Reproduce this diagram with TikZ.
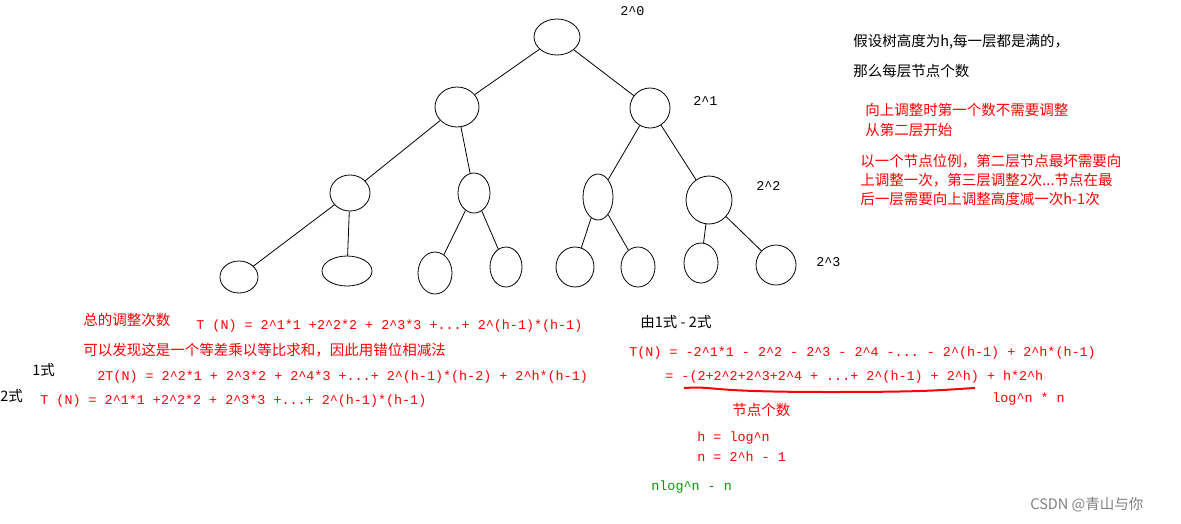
\documentclass[tikz,border=0pt]{standalone}
\usepackage{fontspec}
\setmainfont{Noto Sans CJK SC}
\setmonofont{Liberation Mono}
\newcommand{\ca}{\textasciicircum}
\tikzset{
  cn/.style={anchor=west, inner sep=0pt, font=\fontsize{14.5}{19}\selectfont},
  fm/.style={anchor=west, inner sep=0pt, text=red, font=\fontsize{13.4}{15}\selectfont\ttfamily},
}
\usetikzlibrary{shapes.geometric}
\begin{document}
\begin{tikzpicture}[x=1pt,y=-1pt,line width=0.8pt]
\useasboundingbox (0,0) rectangle (1181,523);
% tree
\node[draw,ellipse,minimum width=46,minimum height=36] (r) at (557,37) {};
\node[draw,ellipse,minimum width=44,minimum height=40] (a) at (457,107) {};
\node[draw,ellipse,minimum width=40,minimum height=40] (b) at (650,108) {};
\node[draw,ellipse,minimum width=40,minimum height=36] (aa) at (350,193) {};
\node[draw,ellipse,minimum width=32,minimum height=40] (ab) at (474,193) {};
\node[draw,ellipse,minimum width=30,minimum height=46] (ba) at (598,197) {};
\node[draw,ellipse,minimum width=46,minimum height=48] (bb) at (709,200) {};
\node[draw,ellipse,minimum width=38,minimum height=32] (aaa) at (239,277) {};
\node[draw,ellipse,minimum width=50,minimum height=30] (aab) at (347,271) {};
\node[draw,ellipse,minimum width=34,minimum height=42] (aba) at (435,273) {};
\node[draw,ellipse,minimum width=32,minimum height=40] (abb) at (506,267) {};
\node[draw,ellipse,minimum width=38,minimum height=40] (baa) at (575,267) {};
\node[draw,ellipse,minimum width=34,minimum height=40] (bab) at (638,267) {};
\node[draw,ellipse,minimum width=34,minimum height=40] (bba) at (701,263) {};
\node[draw,ellipse,minimum width=40,minimum height=40] (bbb) at (776,265) {};
\draw (r) -- (a); \draw (r) -- (b);
\draw (a) -- (aa); \draw (a) -- (ab);
\draw (b) -- (ba); \draw (b) -- (bb);
\draw (aa) -- (aaa); \draw (aa) -- (aab);
\draw (ab) -- (aba); \draw (ab) -- (abb);
\draw (ba) -- (baa); \draw (ba) -- (bab);
\draw (bb) -- (bba); \draw (bb) -- (bbb);
% level labels
\node[fm,text=black] (l0) at (620,11) {2\ca0};
\node[fm,text=black] (l1) at (693,101) {2\ca1};
\node[fm,text=black] (l2) at (756,186) {2\ca2};
\node[fm,text=black] (l3) at (816,262) {2\ca3};
% notes right
\node[cn] (n1) at (853,42) {假设树高度为h,每一层都是满的，};
\node[cn] (n2) at (853,71) {那么每层节点个数};
\node[cn,text=red] (n3) at (865,110) {向上调整时第一个数不需要调整};
\node[cn,text=red] (n4) at (865,130) {从第二层开始};
\node[cn,text=red,align=left] (n5) at (860,180) {以一个节点位例，第二层节点最坏需要向\\上调整一次，第三层调整2次...节点在最\\后一层需要向上调整高度减一次h-1次};
% formulas left
\node[cn,text=red] (s1) at (83,320) {总的调整次数};
\node[fm] (f1) at (196,326) {T (N) = 2\ca1*1  +2\ca2*2 + 2\ca3*3 +...+ 2\ca(h-1)*(h-1)};
\node[cn,text=red] (s2) at (83,350) {可以发现这是一个等差乘以等比求和，因此用错位相减法};
\node[cn] (e1) at (32,370) {1式};
\node[fm] (f2) at (97,377) {2T(N) = 2\ca2*1 + 2\ca3*2 + 2\ca4*3 +...+ 2\ca(h-1)*(h-2) + 2\ca h*(h-1)};
\node[cn] (e2) at (0,396) {2式};
\node[fm] (f3) at (40,401) {T (N) = 2\ca1*1  +2\ca2*2 + 2\ca3*3 +...+ 2\ca(h-1)*(h-1)};
% formulas right
\node[cn] (s3) at (640,322) {由1式 - 2式};
\node[fm] (g1) at (629,353) {T(N) = -2\ca1*1 - 2\ca2 - 2\ca3 - 2\ca4 -... - 2\ca(h-1) + 2\ca h*(h-1)};
\node[fm] (g2) at (665,377) {= -(2+2\ca2+2\ca3+2\ca4 + ...+ 2\ca(h-1) + 2\ca h) + h*2\ca h};
\draw[red,line width=2pt] (684,388) .. controls (720,386) and (700,392) .. (830,392) .. controls (930,392) and (940,390) .. (975,388);
\node[fm] (g3) at (992,399) {log\ca n * n};
\node[cn,text=red] (s4) at (732,410) {节点个数};
\node[fm] (g4) at (697,438) {h = log\ca n};
\node[fm] (g5) at (697,457) {n = 2\ca h - 1};
\node[fm,text=green!60!black] (g6) at (651,487) {nlog\ca n - n};
\node[cn,text=gray] (wm) at (1030,505) {CSDN @青山与你};
\end{tikzpicture}
\end{document}
